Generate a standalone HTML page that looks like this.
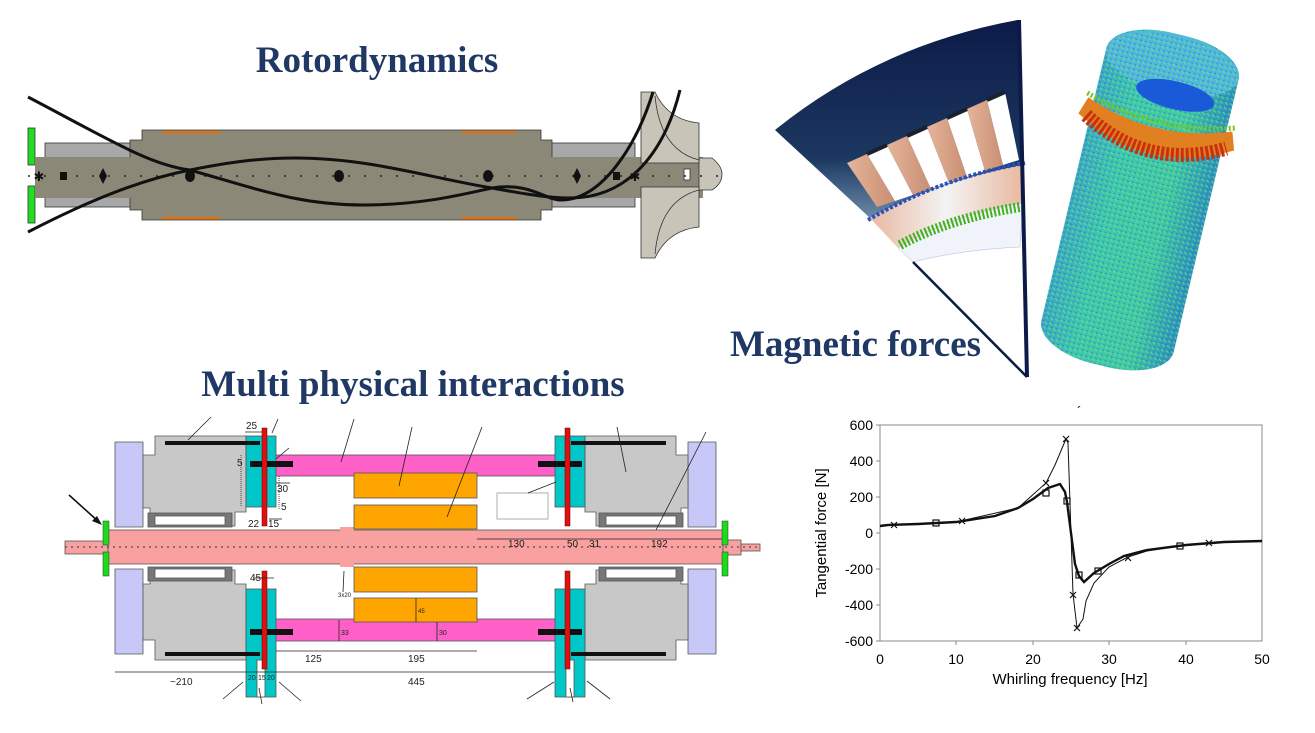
<!DOCTYPE html>
<html><head><meta charset="utf-8"><style>
html,body{margin:0;padding:0;background:#fff;}
svg{display:block;}
.t{font-family:"Liberation Serif",serif;font-weight:bold;fill:#203864;}
.d{font-family:"Liberation Sans",sans-serif;font-size:10px;fill:#222;}
.c{font-family:"Liberation Sans",sans-serif;font-size:14px;fill:#000;}
</style></head><body>
<svg width="1315" height="733" viewBox="0 0 1315 733" xmlns="http://www.w3.org/2000/svg">
<defs>
<linearGradient id="nav" x1="0" y1="0" x2="0" y2="1"><stop offset="0" stop-color="#0c1a48"/><stop offset="0.7" stop-color="#1c3860"/><stop offset="1" stop-color="#6a8aa8"/></linearGradient>
<linearGradient id="tooth" x1="0" y1="0" x2="1" y2="0"><stop offset="0" stop-color="#e6b59a"/><stop offset="1" stop-color="#c88e72"/></linearGradient>
<linearGradient id="band" x1="0" y1="0" x2="1" y2="0"><stop offset="0" stop-color="#e8b8a0"/><stop offset="0.5" stop-color="#f4f4f4"/><stop offset="1" stop-color="#e8b8a0"/></linearGradient>
<linearGradient id="cyl" x1="0" y1="0" x2="1" y2="0"><stop offset="0" stop-color="#3aa8c8"/><stop offset="0.3" stop-color="#3cc8b0"/><stop offset="0.7" stop-color="#40c8a8"/><stop offset="1" stop-color="#2a90c0"/></linearGradient>
<pattern id="dots" width="5" height="5" patternUnits="userSpaceOnUse"><rect width="5" height="5" fill="none"/><path d="M0,0 L3,2" stroke="#7ae070" stroke-width="0.8"/><path d="M3,4 L5,5" stroke="#1a70c0" stroke-width="0.6"/></pattern>
</defs>

<!-- Titles -->
<text class="t" x="377" y="72" font-size="37" text-anchor="middle">Rotordynamics</text>
<text class="t" x="413" y="396" font-size="37" text-anchor="middle">Multi physical interactions</text>

<!-- ROTOR -->
<g stroke="#333" stroke-width="0.8">
<rect x="28" y="128" width="7" height="37" fill="#22dd22"/>
<rect x="28" y="186" width="7" height="37" fill="#22dd22"/>
<rect x="45" y="143" width="90" height="64" fill="#a8a8a8"/>
<rect x="550" y="143" width="85" height="64" fill="#a8a8a8"/>
<path d="M130,140 L142,140 L142,130 L541,130 L541,140 L552,140 L552,210 L541,210 L541,220 L142,220 L142,210 L130,210 Z" fill="#8c8877"/>
<rect x="35" y="157" width="668" height="41" fill="#8c8877" stroke="none"/>
<path d="M699,158 L712,158 Q722,166 722,174 Q722,184 712,190 L699,190 Z" fill="#c8c4b8"/>
<path d="M641,92 L655,92 Q668,120 699,123 L699,163 L641,163 Z" fill="#c8c4b8"/>
<path d="M641,258 L655,258 Q668,230 699,227 L699,187 L641,187 Z" fill="#c8c4b8"/>
<path d="M655,96 Q660,150 699,160" fill="none"/>
<path d="M655,254 Q660,200 699,190" fill="none"/>
<rect x="684" y="169" width="6" height="11" fill="#fff"/>
</g>
<g fill="#e07010"><rect x="162" y="131" width="58" height="2.5"/><rect x="462" y="131" width="54" height="2.5"/><rect x="162" y="217" width="58" height="2.5"/><rect x="462" y="217" width="54" height="2.5"/></g>
<line x1="28" y1="176" x2="720" y2="176" stroke="#222" stroke-width="1.5" stroke-dasharray="2,14"/>
<g fill="#111">
<ellipse cx="190" cy="176" rx="5" ry="6"/><ellipse cx="339" cy="176" rx="5" ry="6"/><ellipse cx="488" cy="176" rx="5" ry="6"/>
<path d="M103,168 L107,176 L103,184 L99,176Z"/><path d="M577,168 L581,176 L577,184 L573,176Z"/>
<rect x="60" y="172" width="7" height="8"/><rect x="613" y="172" width="7" height="8"/>
<text x="39" y="181" font-size="13" text-anchor="middle" font-family="DejaVu Sans">✱</text>
<text x="635" y="181" font-size="13" text-anchor="middle" font-family="DejaVu Sans">✱</text>
</g>
<path d="M28,97 C110,140 150,165 190,170 C260,190 300,205 364,205 C420,205 460,195 492,188 C530,182 545,200 561,200 C600,200 635,150 653,92" fill="none" stroke="#111" stroke-width="3"/>
<path d="M28,232 C90,200 140,180 190,170 C230,162 260,158 295,158 C370,158 430,178 492,188 C530,195 550,198 570,198 C630,198 665,150 680,90" fill="none" stroke="#111" stroke-width="3"/>

<!-- MAGNETIC SECTOR -->
<path d="M775,130 Q880,45 1018,20 L1023,165 Q940,180 870,218 Z" fill="url(#nav)"/>
<g>
<polygon points="847,163 867,154 895,201 877,207" fill="url(#tooth)"/>
<polygon points="867,154 887,145 913,195 895,201" fill="#fff"/>
<polygon points="887,145 907,136 931,189 913,195" fill="url(#tooth)"/>
<polygon points="907,136 927,127 949,183 931,189" fill="#fff"/>
<polygon points="927,127 947,118 967,177 949,183" fill="url(#tooth)"/>
<polygon points="947,118 967,109 985,171 967,177" fill="#fff"/>
<polygon points="967,109 987,100 1003,165 985,171" fill="url(#tooth)"/>
<polygon points="987,100 1005,92 1019,160 1003,165" fill="#fff"/>
<g stroke="#1a2030" stroke-width="4">
<line x1="867" y1="154" x2="887" y2="145"/><line x1="907" y1="136" x2="927" y2="127"/><line x1="947" y1="118" x2="967" y2="109"/><line x1="987" y1="100" x2="1005" y2="92"/>
</g>
</g>
<path d="M870,218 Q940,180 1023,165 L1023,203 Q950,215 898,248 Z" fill="url(#band)"/>
<path d="M868,220 Q940,178 1025,163" fill="none" stroke="#2850c0" stroke-width="4" stroke-dasharray="3,2"/>
<path d="M898,248 Q950,215 1023,203 L1020,247 Q960,250 913,262 Z" fill="#f0f4fa" stroke="#b0b8e0" stroke-width="0.5"/>
<path d="M900,245 Q950,218 1020,207" fill="none" stroke="#44b020" stroke-width="10" stroke-dasharray="2,2"/>
<path d="M913,262 L1027,377" stroke="#0c1a48" stroke-width="2.5"/>
<path d="M1019,20 L1027,377" stroke="#0c1a48" stroke-width="4"/>
<text class="t" x="730" y="356" font-size="37">Magnetic forces</text>

<!-- CYLINDER -->
<g transform="rotate(13.4 1140 200)">
<rect x="1072" y="30" width="136" height="340" rx="60" ry="30" fill="url(#cyl)"/>
<rect x="1072" y="30" width="136" height="340" rx="60" ry="30" fill="url(#dots)"/>
<ellipse cx="1140" cy="60" rx="68" ry="30" fill="#50b8e0"/>
<ellipse cx="1140" cy="62" rx="68" ry="30" fill="url(#dots)"/>
<ellipse cx="1150" cy="90" rx="40" ry="14" fill="#1a5ad8"/>
<path d="M1066,112 Q1140,140 1214,112 L1220,130 Q1140,175 1060,130 Z" fill="#e08020"/>
<path d="M1068,130 Q1140,170 1212,130" fill="none" stroke="#c83010" stroke-width="14" stroke-dasharray="3,2"/>
<path d="M1064,108 Q1140,132 1216,108" fill="none" stroke="#70c830" stroke-width="5" stroke-dasharray="2,2"/>
</g>

<!-- MULTIPHYSICS -->
<g stroke="#555" stroke-width="0.8">
<path d="M115,442 L143,442 L143,527 L115,527 Z" fill="#c8c8f8"/>
<path d="M115,569 L143,569 L143,654 L115,654 Z" fill="#c8c8f8"/>
<path d="M688,442 L716,442 L716,527 L688,527 Z" fill="#c8c8f8"/>
<path d="M688,569 L716,569 L716,654 L688,654 Z" fill="#c8c8f8"/>
<path d="M155,436 L246,436 L246,512 L235,512 L235,526 L150,526 L150,508 L143,508 L143,455 L155,455 Z" fill="#c8c8c8"/>
<path d="M143,584 L150,584 L150,570 L235,570 L235,584 L246,584 L246,660 L155,660 L155,640 L143,640 Z" fill="#c8c8c8"/>
<path d="M585,436 L676,436 L676,455 L688,455 L688,508 L681,508 L681,526 L596,526 L596,512 L585,512 Z" fill="#c8c8c8"/>
<path d="M596,570 L681,570 L681,584 L688,584 L688,640 L676,640 L676,660 L585,660 L585,584 L596,584 Z" fill="#c8c8c8"/>
<rect x="148" y="513" width="84" height="14" fill="#777"/><rect x="155" y="516" width="70" height="9" fill="#fff"/>
<rect x="148" y="567" width="84" height="14" fill="#777"/><rect x="155" y="569" width="70" height="9" fill="#fff"/>
<rect x="599" y="513" width="84" height="14" fill="#777"/><rect x="606" y="516" width="70" height="9" fill="#fff"/>
<rect x="599" y="567" width="84" height="14" fill="#777"/><rect x="606" y="569" width="70" height="9" fill="#fff"/>
<rect x="65" y="541" width="50" height="13" fill="#f9a0a0"/>
<rect x="108" y="530" width="615" height="34" fill="#f9a0a0"/>
<rect x="723" y="540" width="18" height="15" fill="#f9a0a0"/>
<rect x="741" y="544" width="19" height="7" fill="#f9a0a0"/>
<rect x="340" y="527" width="14" height="40" fill="#f9a0a0" stroke="none"/>
<rect x="273" y="455" width="285" height="21" fill="#ff60c8"/>
<rect x="273" y="619" width="285" height="22" fill="#ff60c8"/>
<rect x="354" y="473" width="123" height="25" fill="#ffa500"/>
<rect x="354" y="505" width="123" height="24" fill="#ffa500"/>
<rect x="354" y="567" width="123" height="25" fill="#ffa500"/>
<rect x="354" y="598" width="123" height="24" fill="#ffa500"/>
<rect x="246" y="436" width="30" height="71" fill="#00c8c8"/>
<rect x="246" y="589" width="30" height="108" fill="#00c8c8"/>
<rect x="555" y="436" width="30" height="71" fill="#00c8c8"/>
<rect x="555" y="589" width="30" height="108" fill="#00c8c8"/>
<rect x="257" y="660" width="8" height="37" fill="#fff"/>
<rect x="566" y="660" width="8" height="37" fill="#fff"/>
<rect x="497" y="493" width="51" height="26" fill="#fff" stroke="#999"/>
</g>
<g fill="#111">
<rect x="165" y="441" width="95" height="4"/><rect x="571" y="441" width="95" height="4"/>
<rect x="165" y="652" width="95" height="4"/><rect x="571" y="652" width="95" height="4"/>
<rect x="250" y="461" width="43" height="6"/><rect x="538" y="461" width="44" height="6"/>
<rect x="250" y="629" width="43" height="6"/><rect x="538" y="629" width="44" height="6"/>
</g>
<g fill="#e01010" stroke="#600" stroke-width="0.5">
<rect x="262" y="428" width="5" height="98"/><rect x="262" y="571" width="5" height="98"/>
<rect x="565" y="428" width="5" height="98"/><rect x="565" y="571" width="5" height="98"/>
</g>
<g fill="#1bdb1b" stroke="#333" stroke-width="0.5">
<rect x="103" y="521" width="6" height="24"/><rect x="103" y="552" width="6" height="24"/>
<rect x="722" y="521" width="6" height="24"/><rect x="722" y="552" width="6" height="24"/>
</g>
<line x1="65" y1="547" x2="760" y2="547" stroke="#333" stroke-width="1" stroke-dasharray="2,4"/>
<g stroke="#222" stroke-width="0.8" fill="none">
<line x1="115" y1="672" x2="555" y2="672"/>
<line x1="276" y1="651" x2="477" y2="651"/>
<line x1="477" y1="539" x2="722" y2="539"/>
<line x1="245" y1="432" x2="262" y2="432"/>
<line x1="269" y1="519" x2="282" y2="519"/>
<line x1="253" y1="578" x2="274" y2="578"/>
<line x1="276" y1="483" x2="290" y2="483"/>
<line x1="241" y1="455" x2="241" y2="507" stroke-dasharray="1,1"/>
<line x1="279" y1="476" x2="279" y2="510" stroke-dasharray="1,1"/>
<line x1="339" y1="620" x2="339" y2="641"/><line x1="437" y1="622" x2="437" y2="641"/><line x1="416" y1="598" x2="416" y2="622"/>
<line x1="211" y1="417" x2="188" y2="440"/>
<line x1="278" y1="419" x2="272" y2="433"/>
<line x1="354" y1="419" x2="341" y2="462"/>
<line x1="412" y1="427" x2="399" y2="486"/>
<line x1="482" y1="427" x2="447" y2="517"/>
<line x1="289" y1="448" x2="276" y2="459"/>
<line x1="528" y1="493" x2="556" y2="482"/>
<line x1="617" y1="427" x2="626" y2="472"/>
<line x1="706" y1="432" x2="656" y2="530"/>
<line x1="223" y1="699" x2="243" y2="682"/>
<line x1="262" y1="704" x2="259" y2="688"/>
<line x1="301" y1="701" x2="279" y2="682"/>
<line x1="527" y1="699" x2="554" y2="682"/>
<line x1="573" y1="702" x2="570" y2="688"/>
<line x1="610" y1="699" x2="587" y2="681"/>
<line x1="343" y1="592" x2="344" y2="571"/>
</g>
<line x1="69" y1="495" x2="99" y2="522" stroke="#111" stroke-width="1.6"/>
<polygon points="102,525 92,521 97,516" fill="#111"/>
<g class="d">
<text x="246" y="429">25</text><text x="237" y="466">5</text><text x="277" y="492">30</text><text x="281" y="510">5</text>
<text x="248" y="527">22</text><text x="268" y="527">15</text><text x="250" y="581">45</text>
<text x="508" y="547">130</text><text x="567" y="547">50</text><text x="589" y="547">31</text><text x="651" y="547">192</text>
<text x="338" y="597" font-size="6">3x20</text><text x="418" y="613" font-size="6">45</text>
<text x="341" y="635" font-size="7">33</text><text x="439" y="635" font-size="7">30</text>
<text x="305" y="662">125</text><text x="408" y="662">195</text><text x="170" y="685">~210</text><text x="408" y="685">445</text>
<text x="248" y="680" font-size="7">20</text><text x="258" y="680" font-size="7">15</text><text x="267" y="680" font-size="7">20</text>
</g>

<!-- CHART -->
<rect x="880" y="425" width="382" height="216" fill="none" stroke="#888" stroke-width="1"/>
<g stroke="#888" stroke-width="1">
<line x1="876" y1="425" x2="880" y2="425"/><line x1="876" y1="461" x2="880" y2="461"/><line x1="876" y1="497" x2="880" y2="497"/><line x1="876" y1="533" x2="880" y2="533"/><line x1="876" y1="569" x2="880" y2="569"/><line x1="876" y1="605" x2="880" y2="605"/><line x1="876" y1="641" x2="880" y2="641"/>
<line x1="956" y1="641" x2="956" y2="645"/><line x1="1033" y1="641" x2="1033" y2="645"/><line x1="1109" y1="641" x2="1109" y2="645"/><line x1="1186" y1="641" x2="1186" y2="645"/>
</g>
<g class="c" text-anchor="end">
<text x="873" y="430">600</text><text x="873" y="466">400</text><text x="873" y="502">200</text><text x="873" y="538">0</text><text x="873" y="574">-200</text><text x="873" y="610">-400</text><text x="873" y="646">-600</text>
</g>
<g class="c" text-anchor="middle">
<text x="880" y="664">0</text><text x="956" y="664">10</text><text x="1033" y="664">20</text><text x="1109" y="664">30</text><text x="1186" y="664">40</text><text x="1262" y="664">50</text>
<text x="1070" y="684" font-size="15">Whirling frequency [Hz]</text>
<text transform="translate(826 533) rotate(-90)" font-size="15">Tangential force [N]</text>
</g>
<text class="c" x="1077" y="416" font-size="10">´</text>
<polyline fill="none" stroke="#111" stroke-width="1" points="880,526 895,525 956,522 1018,508 1046,483 1055,465 1063,446 1066,439 1068,443 1073,594 1077,628 1083,619 1086,601 1094,583 1109,567 1128,557 1147,551 1186,545 1209,543 1262,541"/>
<polyline fill="none" stroke="#111" stroke-width="2.4" points="880,526 888,525 918,524 956,522 995,516 1018,508 1033,499 1048,488 1060,484 1065,492 1067,502 1071,533 1075,564 1079,576 1084,582 1094,573 1109,564 1124,556 1147,550 1186,545 1224,542 1262,541"/>
<g stroke="#111" stroke-width="1.2" fill="none">
<path d="M891,522 l6,6 m0,-6 l-6,6"/><path d="M959,518 l6,6 m0,-6 l-6,6"/><path d="M1043,480 l6,6 m0,-6 l-6,6"/><path d="M1063,436 l6,6 m0,-6 l-6,6"/>
<path d="M1070,592 l6,6 m0,-6 l-6,6"/><path d="M1074,625 l6,6 m0,-6 l-6,6"/><path d="M1125,555 l6,6 m0,-6 l-6,6"/><path d="M1206,540 l6,6 m0,-6 l-6,6"/>
<rect x="933" y="520" width="6" height="6"/><rect x="1043" y="490" width="6" height="6"/><rect x="1064" y="498" width="6" height="6"/>
<rect x="1076" y="572" width="6" height="6"/><rect x="1095" y="568" width="6" height="6"/><rect x="1177" y="543" width="6" height="6"/>
</g>
</svg>
</body></html>
